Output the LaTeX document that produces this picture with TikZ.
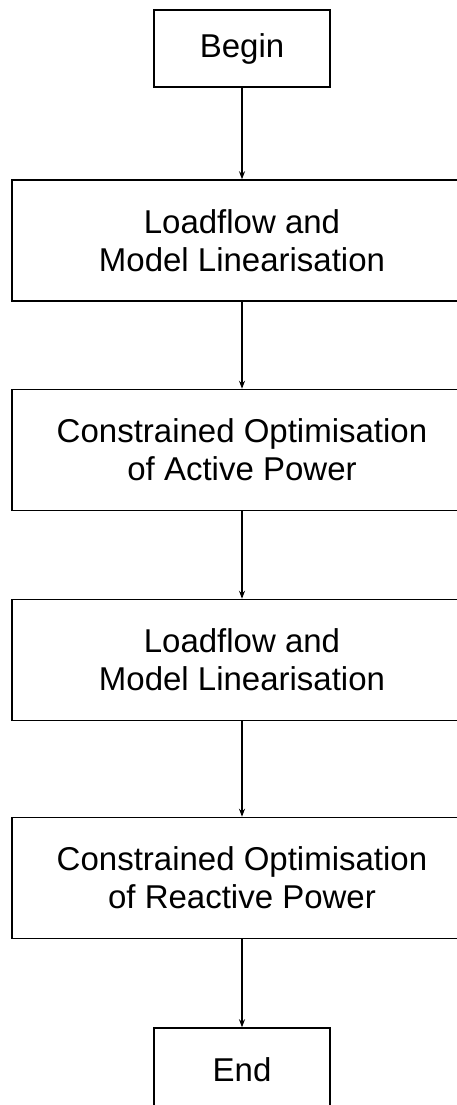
\documentclass[tikz,border=0pt]{standalone}
\usepackage{fontspec}
\setmainfont{Liberation Sans}
\usetikzlibrary{arrows.meta}
\tikzstyle{box}=[draw, line width=1.5pt, align=center, font=\fontsize{33}{38}\selectfont, inner sep=0pt]
\tikzstyle{wide}=[box, minimum width=460pt, minimum height=121pt]
\tikzstyle{small}=[box, minimum width=176pt, minimum height=77pt]
\tikzstyle{flow}=[line width=1.5pt, -{Stealth[length=8pt, width=6pt]}]
\begin{document}
\begin{tikzpicture}[x=1pt, y=-1pt]
\clip (0,0) rectangle (457,1105);
\useasboundingbox (0,0) rectangle (457,1105);
\node [small] (begin) at (242,48.5) {Begin};
\node [wide] (lf1) at (242,240.5) {Loadflow and\\Model Linearisation};
\node [wide] (opa) at (242,450) {Constrained Optimisation\\of Active Power};
\node [wide] (lf2) at (242,660) {Loadflow and\\Model Linearisation};
\node [wide] (opr) at (242,878) {Constrained Optimisation\\of Reactive Power};
\node [small, minimum height=84pt] (end) at (242,1070) {End};
\draw [flow] (begin) -- (lf1); % chain
\draw [flow] (lf1) -- (opa);
\draw [flow] (opa) -- (lf2);
\draw [flow] (lf2) -- (opr);
\draw [flow] (opr) -- (end);
\end{tikzpicture}
\end{document}
